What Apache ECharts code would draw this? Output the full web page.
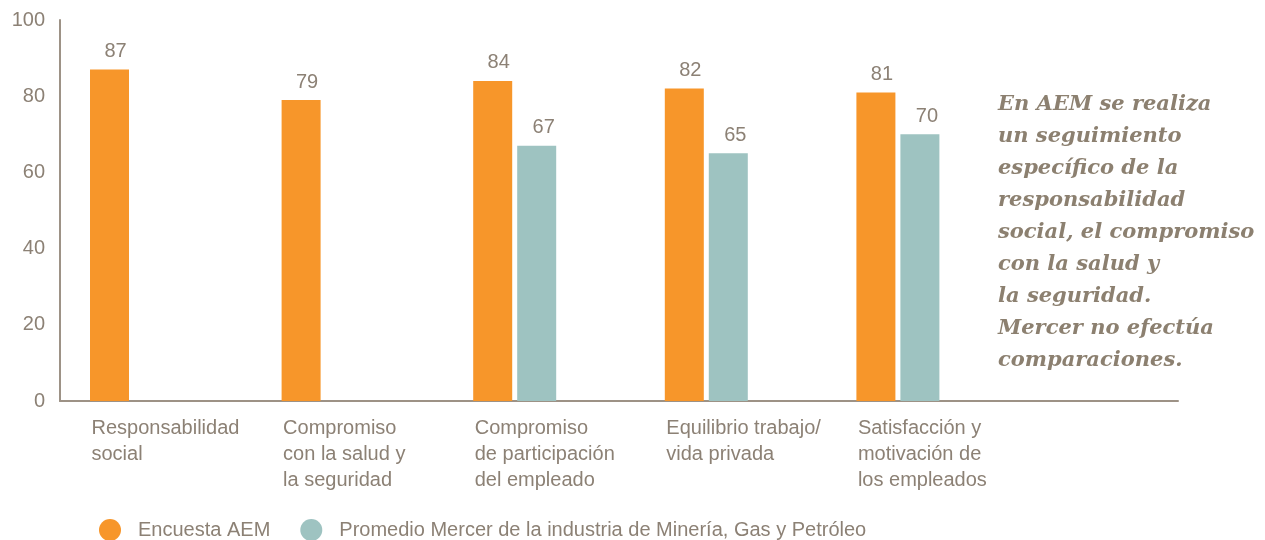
<!DOCTYPE html>
<html>
<head>
<meta charset="utf-8">
<script src="https://cdn.jsdelivr.net/npm/echarts@6/dist/echarts.min.js"></script>
<style>
  html,body{margin:0;padding:0;background:#fff;}
  #chart{width:1265px;height:540px;}
</style>
</head>
<body>
<div id="chart"></div>
<script>
// categorías del eje x (la última vacía deja sitio al texto de la derecha)
const categories = [
  'Responsabilidad\nsocial',
  'Compromiso\ncon la salud y\nla seguridad',
  'Compromiso\nde participación\ndel empleado',
  'Equilibrio trabajo/\nvida privada',
  'Satisfacción y\nmotivación de\nlos empleados',
  ''
]
// valores de cada serie
const aemValues = [87, 79, 84, 82, 81, null]
const mercerValues = [null, null, 67, 65, 70, null]
const seriesNames = ['Encuesta AEM', 'Promedio Mercer de la industria de Minería, Gas y Petróleo']
const yTicks = { min: 0, max: 100, interval: 20 }
const note = 'En AEM se realiza\nun seguimiento\nespecífico de la\nresponsabilidad\nsocial, el compromiso\ncon la salud y\nla seguridad.\nMercer no efectúa\ncomparaciones.'

const textColor = '#8c8175'
const axisColor = '#9d9286'
const font = 'Liberation Sans'

const chart = echarts.init(document.getElementById('chart'))

chart.setOption({
  animation: false,
  title: {
    text: note,
    left: 998,
    top: 89,
    padding: 0,
    textStyle: {
      fontFamily: 'DejaVu Serif',
      fontStyle: 'italic',
      fontWeight: 'bold',
      fontSize: 21,
      lineHeight: 32,
      color: '#8c8070'
    }
  },
  legend: {
    data: seriesNames,
    left: 94,
    top: 514,
    icon: 'circle',
    itemWidth: 22,
    itemHeight: 22,
    itemGap: 30,
    textStyle: { fontFamily: font, fontSize: 20, color: textColor, padding: [0, 0, 0, 12] }
  },
  // grid 0: ejes visibles, grid 1: barras, grid 2: etiquetas de categoría
  grid: [
    { left: 60, right: 87, top: 20, bottom: 139, outerBoundsMode: 'none' },
    { left: 35.7, width: 1149.6, top: 20, bottom: 139, outerBoundsMode: 'none' },
    { left: -4.3, width: 1149.6, top: 20, bottom: 139, outerBoundsMode: 'none' }
  ],
  xAxis: [
    {
      gridIndex: 0, type: 'value', min: 0, max: 1,
      axisLine: { show: true, lineStyle: { color: axisColor, width: 2 } },
      axisTick: { show: false }, axisLabel: { show: false }, splitLine: { show: false }
    },
    {
      gridIndex: 1, type: 'category', data: categories,
      axisLine: { show: false }, axisTick: { show: false }, axisLabel: { show: false }
    },
    {
      gridIndex: 2, type: 'category', data: categories,
      axisLine: { show: false }, axisTick: { show: false },
      axisLabel: {
        interval: 0, align: 'left', margin: 14,
        fontFamily: font, fontSize: 20, lineHeight: 26, color: textColor
      }
    }
  ],
  yAxis: [
    {
      gridIndex: 0, type: 'value', ...yTicks,
      axisLine: { show: true, lineStyle: { color: axisColor, width: 2 } },
      axisTick: { show: false }, splitLine: { show: false },
      axisLabel: { margin: 15, fontFamily: font, fontSize: 20, color: textColor }
    },
    { gridIndex: 1, type: 'value', ...yTicks, show: false },
    { gridIndex: 2, type: 'value', ...yTicks, show: false }
  ],
  series: [
    {
      name: seriesNames[0], type: 'bar', xAxisIndex: 1, yAxisIndex: 1,
      data: aemValues, barWidth: 39, barGap: '12.8%',
      itemStyle: { color: '#f7962a' },
      label: {
        show: true, position: 'top', distance: 8, offset: [6, 0],
        fontFamily: font, fontSize: 20, color: textColor
      }
    },
    {
      name: seriesNames[1], type: 'bar', xAxisIndex: 1, yAxisIndex: 1,
      data: mercerValues, barWidth: 39, barGap: '12.8%',
      itemStyle: { color: '#9ec3c1' },
      label: {
        show: true, position: 'top', distance: 8, offset: [7, 0],
        fontFamily: font, fontSize: 20, color: textColor
      }
    }
  ]
})
</script>
</body>
</html>
